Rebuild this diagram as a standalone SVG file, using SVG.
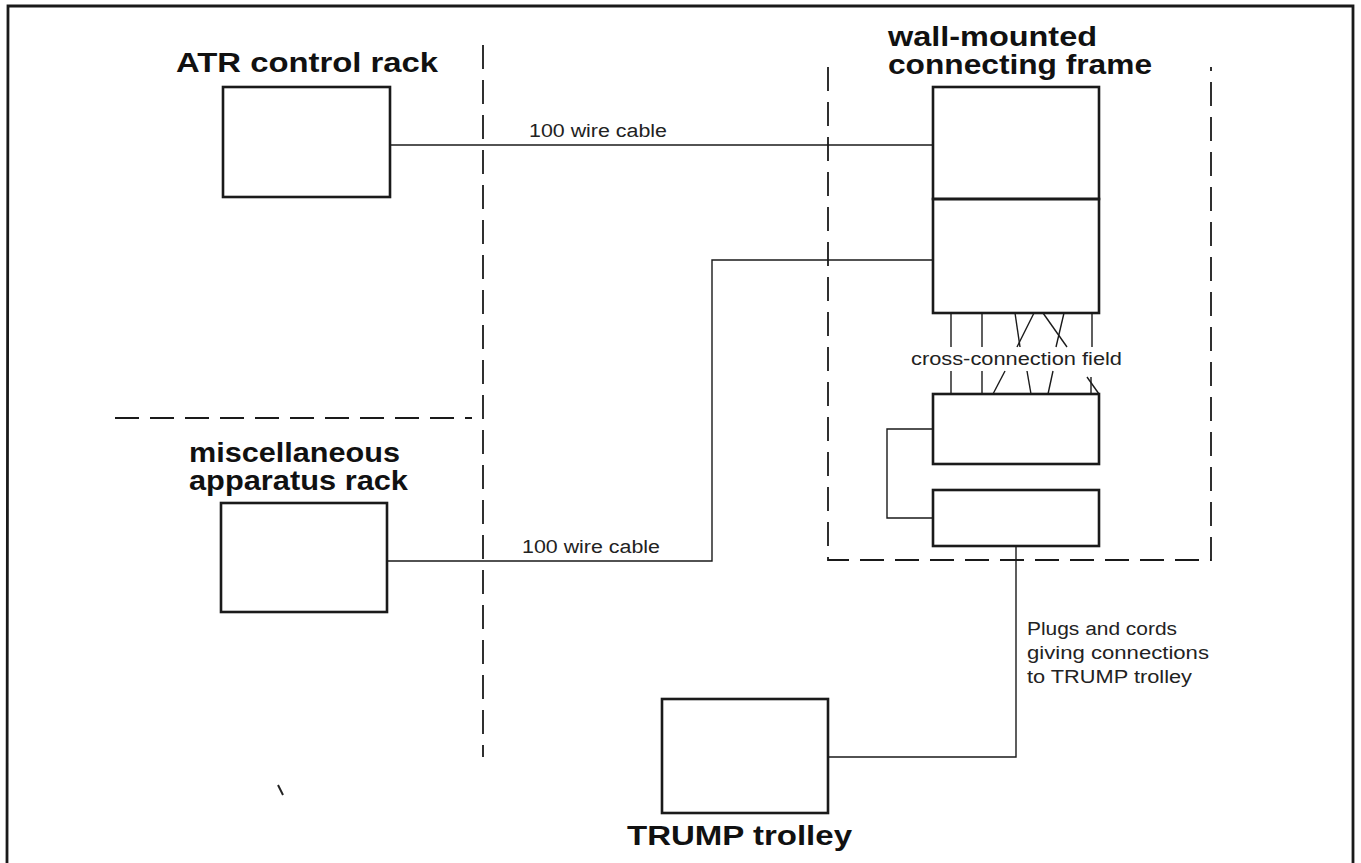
<svg xmlns="http://www.w3.org/2000/svg" width="1361" height="863" viewBox="0 0 1361 863">
<style>
.bg{fill:#ffffff}
.box{fill:none;stroke:#1a1a1a;stroke-width:2.6}
.wire{fill:none;stroke:#1a1a1a;stroke-width:1.4}
.dash{fill:none;stroke:#1a1a1a;stroke-width:1.8;stroke-dasharray:24 11}
.frame{fill:none;stroke:#1a1a1a;stroke-width:2.8}
.lbl{font-family:"Liberation Sans",Arial,sans-serif;font-weight:bold;font-size:27px;fill:#111}
.sm{font-family:"Liberation Sans",Arial,sans-serif;font-size:18px;fill:#222}
</style>
<rect class="bg" x="0" y="0" width="1361" height="863"/>
<g id="border">
<polyline class="frame" points="7,863 8,6 1353,6 1353,863"/>
</g>
<g id="partitions">
<line class="dash" x1="483" y1="45" x2="483" y2="757"/>
<line class="dash" x1="115" y1="418" x2="472" y2="418"/>
</g>
<g id="atr-rack">
<rect class="box" x="223" y="87" width="167" height="110"/>
<text class="lbl" x="176" y="72" font-size="28" textLength="262" lengthAdjust="spacingAndGlyphs">ATR control rack</text>
</g>
<g id="misc-rack">
<rect class="box" x="221" y="503" width="166" height="109"/>
<text class="lbl" x="189" y="462" textLength="211" lengthAdjust="spacingAndGlyphs">miscellaneous</text>
<text class="lbl" x="189" y="490" textLength="219" lengthAdjust="spacingAndGlyphs">apparatus rack</text>
</g>
<g id="connecting-frame">
<path class="dash" d="M828,67 V560 H1211 V67"/>
<text class="lbl" x="888" y="46" textLength="209" lengthAdjust="spacingAndGlyphs">wall-mounted</text>
<text class="lbl" x="888" y="74" textLength="264" lengthAdjust="spacingAndGlyphs">connecting frame</text>
<rect class="box" x="933" y="87" width="166" height="112"/>
<rect class="box" x="933" y="199" width="166" height="114"/>
<rect class="box" x="933" y="394" width="166" height="70"/>
<rect class="box" x="933" y="490" width="166" height="56"/>
</g>
<g id="cross-connection-field">
<g class="wire">
<line x1="951" y1="313" x2="951" y2="347"/>
<line x1="982" y1="313" x2="982" y2="347"/>
<line x1="1015" y1="313" x2="1020" y2="347"/>
<line x1="1034" y1="313" x2="1017" y2="347"/>
<line x1="1043" y1="313" x2="1067" y2="347"/>
<line x1="1064" y1="313" x2="1056" y2="347"/>
<line x1="1092" y1="313" x2="1092" y2="347"/>
<line x1="951" y1="371" x2="951" y2="394"/>
<line x1="982" y1="371" x2="982" y2="394"/>
<line x1="1005" y1="371" x2="993" y2="394"/>
<line x1="1027" y1="371" x2="1031" y2="394"/>
<line x1="1053" y1="371" x2="1048" y2="394"/>
<line x1="1091" y1="377" x2="1091" y2="394"/>
<line x1="1087" y1="377" x2="1099" y2="394"/>
</g>
<text class="sm" x="911" y="365" textLength="211" lengthAdjust="spacingAndGlyphs">cross-connection field</text>
</g>
<g id="trump-trolley">
<rect class="box" x="662" y="699" width="166" height="114"/>
<text class="lbl" x="627" y="845" textLength="225" lengthAdjust="spacingAndGlyphs">TRUMP trolley</text>
</g>
<g id="connectors">
<polyline class="wire" points="390,145 933,145"/>
<polyline class="wire" points="387,561 712,561 712,260 933,260"/>
<polyline class="wire" points="933,429 887,429 887,518 933,518"/>
<polyline class="wire" points="1016,546 1016,757 828,757"/>
<text class="sm" x="529" y="137" textLength="138" lengthAdjust="spacingAndGlyphs">100 wire cable</text>
<text class="sm" x="522" y="553" textLength="138" lengthAdjust="spacingAndGlyphs">100 wire cable</text>
<text class="sm" x="1027" y="635" textLength="150" lengthAdjust="spacingAndGlyphs">Plugs and cords</text>
<text class="sm" x="1027" y="659" textLength="182" lengthAdjust="spacingAndGlyphs">giving connections</text>
<text class="sm" x="1027" y="683" textLength="165" lengthAdjust="spacingAndGlyphs">to TRUMP trolley</text>
</g>
<line x1="278" y1="785" x2="283" y2="795" stroke="#222" stroke-width="2"/>
</svg>
